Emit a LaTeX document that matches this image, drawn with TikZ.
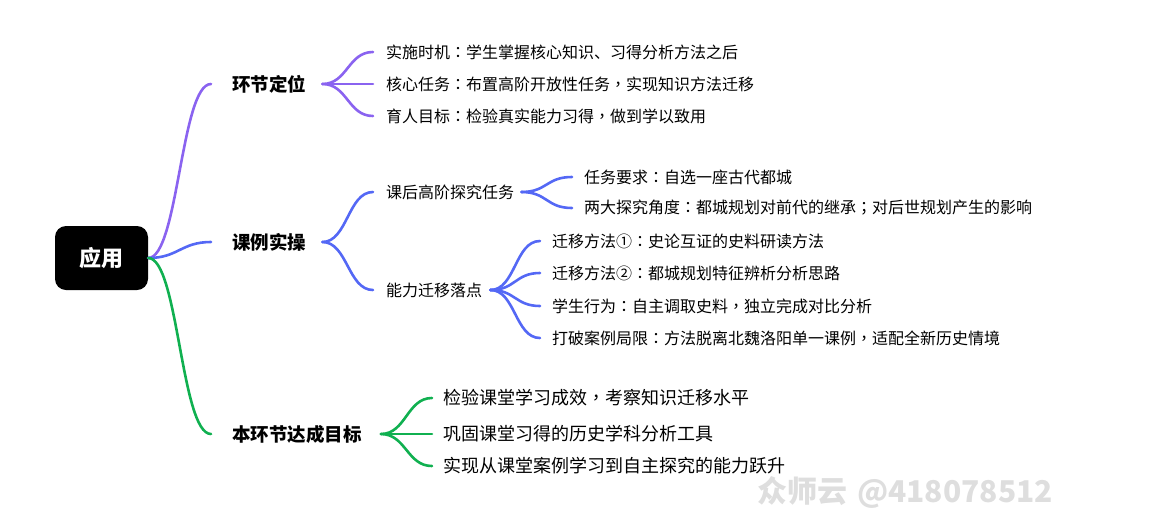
\documentclass[tikz,border=0pt]{standalone}
\usepackage{fontspec}
\setmainfont{Noto Sans CJK SC}
\newfontfamily\tcpunct{Noto Sans CJK TC}
\newcommand{\pco}{{\tcpunct ：}}
\newcommand{\pcm}{{\tcpunct ，}}
\newcommand{\psc}{{\tcpunct ；}}
\definecolor{cpur}{RGB}{138,99,240}
\definecolor{cblu}{RGB}{84,104,245}
\definecolor{cgrn}{RGB}{16,176,80}
\definecolor{wmgray}{RGB}{222,222,222}
\begin{document}
\begin{tikzpicture}[x=1pt,y=-1pt,
  lnk/.style={line width=2.6pt, line cap=round},
  rootn/.style={fill=black, rounded corners=11pt, minimum width=93pt, minimum height=64pt, inner sep=0pt, text=white, font=\fontsize{22}{24}\selectfont\bfseries},
  lone/.style={anchor=west, inner sep=0pt, font=\fontsize{18.5}{20}\selectfont\bfseries},
  ltwo/.style={anchor=west, inner sep=0pt, font=\fontsize{16}{18}\selectfont},
  lthree/.style={anchor=west, inner sep=0pt, font=\fontsize{18}{20}\selectfont}]
\useasboundingbox (0,0) rectangle (1158,517);

\node[rootn] (root) at (101.5,258) {应用};

\node[lone] (b1) at (232,84) {环节定位};
\node[lone] (b2) at (232,242) {课例实操};
\node[lone] (b3) at (232,434) {本环节达成目标};

\node[ltwo] (a1) at (386,52) {实施时机\pco 学生掌握核心知识、习得分析方法之后};
\node[ltwo] (a2) at (386,84) {核心任务\pco 布置高阶开放性任务\pcm 实现知识方法迁移};
\node[ltwo] (a3) at (386,116) {育人目标\pco 检验真实能力习得\pcm 做到学以致用};

\node[ltwo] (s1) at (386,192) {课后高阶探究任务};
\node[ltwo] (s2) at (386,290) {能力迁移落点};

\node[ltwo] (t1) at (584,177) {任务要求\pco 自选一座古代都城};
\node[ltwo] (t2) at (584,208) {两大探究角度\pco 都城规划对前代的继承\psc 对后世规划产生的影响};

\node[ltwo] (u1) at (552,241) {迁移方法①\pco 史论互证的史料研读方法};
\node[ltwo] (u2) at (552,273) {迁移方法②\pco 都城规划特征辨析分析思路};
\node[ltwo] (u3) at (552,306) {学生行为\pco 自主调取史料\pcm 独立完成对比分析};
\node[ltwo] (u4) at (552,338) {打破案例局限\pco 方法脱离北魏洛阳单一课例\pcm 适配全新历史情境};

\node[lthree] (g1) at (443,398) {检验课堂学习成效\pcm 考察知识迁移水平};
\node[lthree] (g2) at (443,434) {巩固课堂习得的历史学科分析工具};
\node[lthree] (g3) at (443,466) {实现从课堂案例学习到自主探究的能力跃升};

\node[anchor=west, inner sep=0pt, text=wmgray, font=\fontsize{30}{32}\selectfont\bfseries] (wm) at (757,492) {众师云\hspace{10pt}@418078512};

% root to level 1
\draw[lnk,cpur] (root.east) .. controls +(30,0) and +(-30,0) .. ([xshift=-21pt]b1.west);
\draw[lnk,cblu] (root.east) .. controls +(30,0) and +(-30,0) .. ([xshift=-21pt]b2.west);
\draw[lnk,cgrn] (root.east) .. controls +(30,0) and +(-30,0) .. ([xshift=-21pt]b3.west);

% b1 children
\foreach \n in {a1,a2,a3}
  \draw[lnk,cpur] ([xshift=16pt]b1.east) .. controls +(25,0) and +(-25,0) .. ([xshift=-13pt]\n.west);
% b2 children
\foreach \n in {s1,s2}
  \draw[lnk,cblu] ([xshift=16pt]b2.east) .. controls +(25,0) and +(-25,0) .. ([xshift=-13pt]\n.west);
\foreach \n in {t1,t2}
  \draw[lnk,cblu] ([xshift=7pt]s1.east) .. controls +(26,0) and +(-26,0) .. ([xshift=-12pt]\n.west);
\foreach \n in {u1,u2,u3,u4}
  \draw[lnk,cblu] ([xshift=8pt]s2.east) .. controls +(25,0) and +(-25,0) .. ([xshift=-12pt]\n.west);
% b3 children
\foreach \n in {g1,g2,g3}
  \draw[lnk,cgrn] ([xshift=19pt]b3.east) .. controls +(25,0) and +(-25,0) .. ([xshift=-11pt]\n.west);
\end{tikzpicture}
\end{document}
